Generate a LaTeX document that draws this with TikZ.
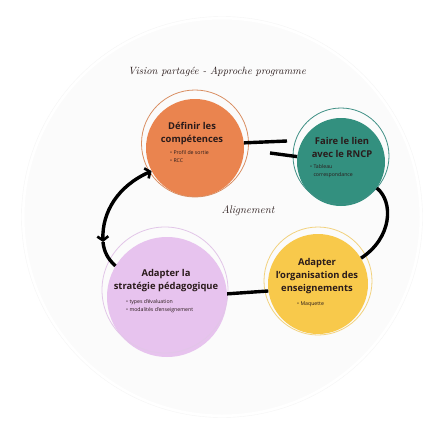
\documentclass[tikz,border=0pt]{standalone}
\usepackage{fontspec}
\newfontfamily\opensans{Open Sans}
\usetikzlibrary{arrows.meta}

\definecolor{orangeF}{HTML}{EA844F}
\definecolor{orangeL}{HTML}{D98E62}
\definecolor{tealF}{HTML}{33907F}
\definecolor{tealL}{HTML}{3E8F84}
\definecolor{yellowF}{HTML}{F8C94B}
\definecolor{yellowL}{HTML}{F2D27E}
\definecolor{lilacF}{HTML}{E7C3EE}
\definecolor{lilacL}{HTML}{E2C6E8}
\definecolor{ink}{HTML}{2A1B1B}

\begin{document}
\begin{tikzpicture}[
            x=1pt, y=-1pt,
            disk/.style={circle, inner sep=0pt, minimum size=#1},
            ring/.style={draw=#1, line width=0.8pt},
            head/.style={font=\opensans\bfseries\fontsize{9.4}{13}\selectfont, align=center, text=ink, inner sep=0pt},
            items/.style={font=\opensans\fontsize{5.2}{8}\selectfont, align=left, text=ink, inner sep=0pt, anchor=north west},
            brush/.style={line width=3.4pt, black},
            barb/.tip={Straight Barb[length=4pt, width=11pt, line width=2.6pt]},
            ]
            \useasboundingbox (0,0) rectangle (441,428);
            \fill[white] (0,0) rectangle (441,428);
            % fond
            \fill[gray!3.5] (222,217) circle[radius=199];
            \draw[white, line width=3pt] (222,217) circle[radius=199];
            \draw[gray!8, line width=0.4pt] (222,217) circle[radius=200.5];

            \node[font=\itshape\fontsize{10.5}{12}\selectfont, text=ink] (titre) at (217,72) {Vision partagée - Approche programme};
            \node[font=\itshape\fontsize{11}{12}\selectfont, text=ink] (align) at (248,211) {Alignement};

            % cercles
            \node[disk=98pt, fill=orangeF] (def) at (195,148) {};
            \draw[ring=orangeL] (195,143.5) circle[radius=53.5];
            \node[disk=88pt, fill=tealF] (ter) at (341,162) {};
            \draw[ring=tealL] (341,156) circle[radius=48];
            \node[disk=100pt, fill=yellowF] (yel) at (318,284) {};
            \draw[ring=yellowL] (318,281) circle[radius=54];
            \node[disk=120pt, fill=lilacF] (ped) at (167,297) {};
            \draw[ring=lilacL] (165,290) circle[radius=63];

            % textes
            \node[head] (defT) at (192,134) {Définir les\\compétences};
            \node[items] (defB) at (170,150) {\textbullet\ Profil de sortie\\\textbullet\ RCC};
            \node[head] (terT) at (342,147) {Faire le lien\\avec le RNCP};
            \node[items] (terB) at (310,164) {\textbullet\ Tableau\\\phantom{\textbullet\ }correspondance};
            \node[head] (yelT) at (317,276) {Adapter\\l’organisation des\\enseignements};
            \node[items] (yelB) at (297,302) {\textbullet\ Maquette};
            \node[head] (pedT) at (166,281) {Adapter la\\stratégie pédagogique};
            \node[items] (pedB) at (126,299) {\textbullet\ types d’évaluation\\\textbullet\ modalités d’enseignement};

            % liens
            \coordinate (k1) at (287,141);
            \coordinate (k2) at (270,153);
            \coordinate (k3) at (103,242);
            \draw[brush] (def.6) -- (k1);
            \draw[brush] (k2) -- (ter.173);
            \draw[brush] (ter.-36) .. controls (394,202) and (392,238) .. (yel.31);
            \draw[brush] (yel.188) -- (ped.3);
            \draw[brush, barb-barb] (k3) .. controls (102,212) and (118,186) .. (def.208);
            \draw[brush] (k3) .. controls (104,252) and (108,259) .. (ped.149);
        \end{tikzpicture}
\end{document}
